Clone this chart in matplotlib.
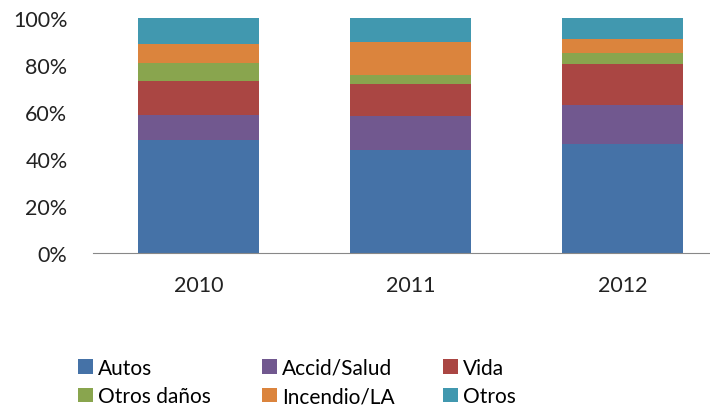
import matplotlib.pyplot as plt
import numpy as np

plt.rcParams['font.family'] = ['Lato', 'DejaVu Sans']

# Data (shares in %)
years = ['2010', '2011', '2012']
series_names = ['Autos', 'Accid/Salud', 'Vida', 'Otros daños', 'Incendio/LA', 'Otros']
autos = [48.3, 44.0, 46.4]
accid_salud = [10.6, 14.4, 16.8]
vida = [14.5, 13.5, 17.3]
otros_danos = [7.7, 3.9, 4.8]
incendio_la = [7.8, 14.0, 6.0]
otros = [11.1, 10.2, 8.7]

values = [autos, accid_salud, vida, otros_danos, incendio_la, otros]
colors = ['#4572A7', '#71588F', '#AA4643', '#89A54E', '#DB843D', '#4198AF']

fig = plt.figure(figsize=(7.10, 4.06), dpi=100)
ax = fig.add_axes([92.5 / 710, 152 / 406, (710 - 92.5) / 710, 234.7 / 406])

x = np.arange(len(years))
bottom = np.zeros(len(years))
handles = []
for name, vals, c in zip(series_names, values, colors):
    vals = np.array(vals)
    b = ax.bar(x, vals, width=0.57, bottom=bottom, color=c, label=name,
               edgecolor='none')
    handles.append(b)
    bottom += vals

ax.set_xlim(-0.5, (710 - 92.5) / 212 - 0.5)
ax.set_ylim(0, 100)
ax.set_yticks(range(0, 101, 20))
ax.set_yticklabels([f'{v}%' for v in range(0, 101, 20)])
ax.set_xticks(x)
ax.set_xticklabels(years)

for s in ['top', 'right', 'left']:
    ax.spines[s].set_visible(False)
ax.spines['bottom'].set_color('#888888')
ax.tick_params(axis='y', length=0, pad=18, labelsize=15.5, colors='#222222')
ax.tick_params(axis='x', length=0, pad=16, labelsize=15.5, colors='#222222')

# legend laid out row by row: three columns of two entries each
col_x = [78, 262, 443]
for i, cx in enumerate(col_x):
    fig.legend([handles[i], handles[i + 3]], [series_names[i], series_names[i + 3]],
               loc='upper left', bbox_to_anchor=(cx / 710, 1 - 359 / 406),
               frameon=False, fontsize=15, handlelength=0.7, handleheight=0.7,
               handletextpad=0.25, labelspacing=0.4,
               borderaxespad=0, borderpad=0)

fig.savefig('out.png', dpi=100)
